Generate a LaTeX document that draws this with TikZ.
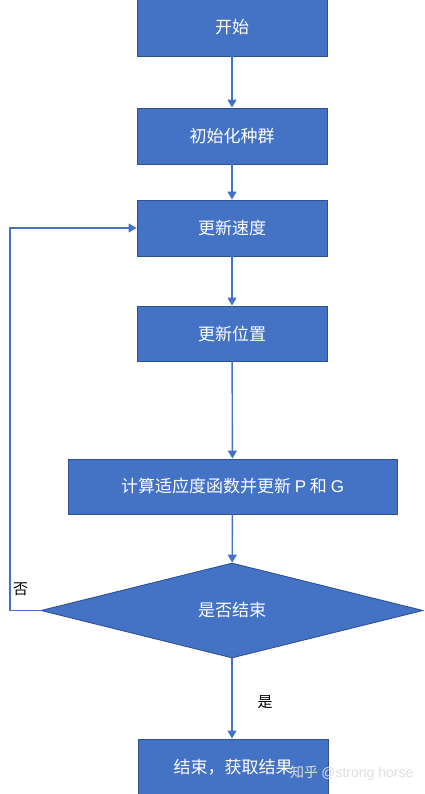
\documentclass[tikz,border=0pt]{standalone}
\usepackage{fontspec}
\setmainfont{Noto Sans CJK SC}
\newfontfamily\latinfont{Liberation Sans}
\usetikzlibrary{shapes.geometric,arrows.meta}
\definecolor{boxfill}{HTML}{4472C4}
\definecolor{boxline}{HTML}{2F528F}
\definecolor{arrowcol}{HTML}{4472C4}
\tikzset{
  procbox/.style={draw=boxline, line width=0.9pt, fill=boxfill, text=white,
    minimum width=190pt, minimum height=56pt, inner sep=0pt,
    font=\fontsize{17pt}{20pt}\selectfont},
  decbox/.style={diamond, draw=boxline, line width=0.9pt, fill=boxfill, text=white,
    minimum width=382pt, minimum height=95pt, inner sep=0pt,
    font=\fontsize{17pt}{20pt}\selectfont},
  flow/.style={draw=arrowcol, line width=1.4pt,
    -{Triangle[width=9pt,length=8pt]}},
  lbl/.style={font=\fontsize{15pt}{17pt}\selectfont, text=black, inner sep=0pt},
}
\begin{document}
\begin{tikzpicture}[x=1pt,y=-1pt]
\useasboundingbox (0,0) rectangle (424,794);
\clip (0,0) rectangle (424,794);
\fill[white] (0,0) rectangle (424,794);
\node[procbox, minimum height=57pt] (start) at (232,27.5) {开始};
\node[procbox] (init) at (232,136) {初始化种群};
\node[procbox] (vel) at (232,228) {更新速度};
\node[procbox, minimum height=55pt] (pos) at (232,333.5) {更新位置};
\node[procbox, minimum width=329pt, minimum height=55pt] (fit) at (232.5,486.5) {计算适应度函数并更新 {\latinfont P} 和 {\latinfont G}};
\node[decbox] (dec) at (232,610.5) {是否结束};
\node[procbox] (end) at (233,767) {结束，获取结果};
\coordinate (lb) at (10,610.5);
\coordinate (lt) at (10,228);
\draw[flow] (start) -- (init);
\draw[flow] (init) -- (vel);
\draw[flow] (vel) -- (pos);
\draw[flow] (pos) -- (fit);
\draw[flow] (fit) -- (dec);
\draw[flow] (dec) -- (dec.south |- end.north);
\draw[flow] (dec.west) -- (lb) -- (lt) -- (vel.west);
\node[lbl] (no) at (20.5,589) {否};
\node[lbl] (yes) at (265,702) {是};
\node[font=\fontsize{14pt}{16pt}\selectfont, text=white!75!gray, inner sep=0pt, anchor=west] (wm) at (290,773) {知乎 {\latinfont @strong horse}};
\end{tikzpicture}
\end{document}
